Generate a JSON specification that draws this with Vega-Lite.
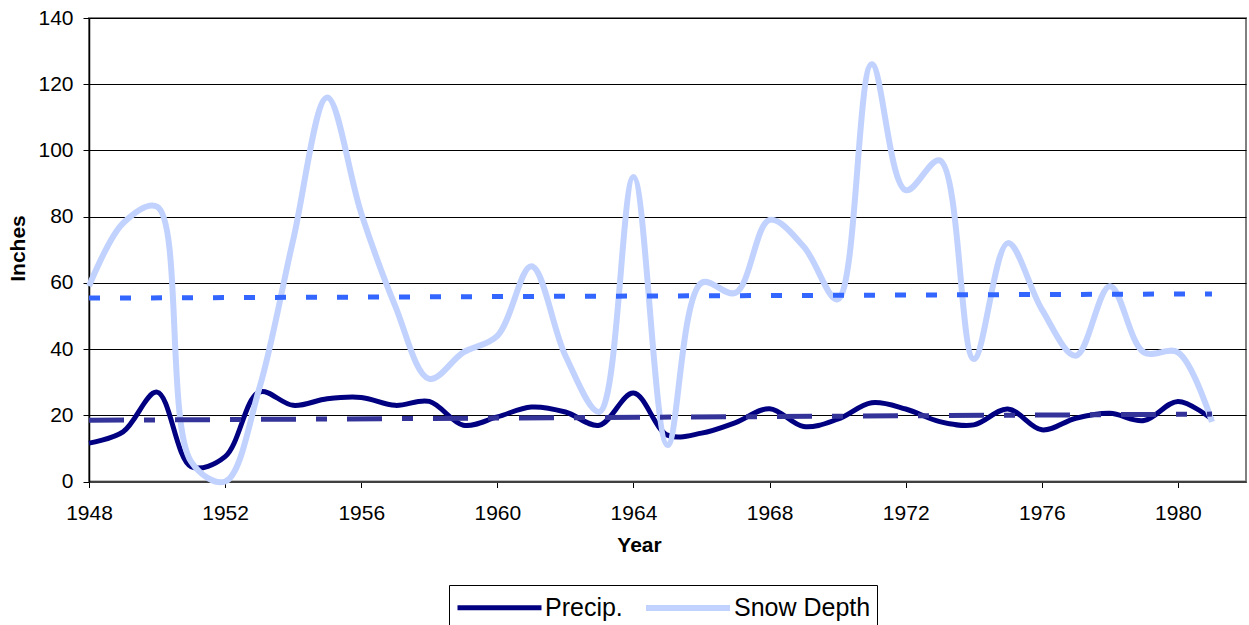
{
  "$schema": "https://vega.github.io/schema/vega-lite/v6.json",
  "width": 1157,
  "height": 463.5,
  "autosize": {"type": "none"},
  "padding": {"left": 89, "top": 18, "right": 3, "bottom": 144},
  "background": "white",
  "config": {
    "font": "Liberation Sans",
    "view": {"stroke": "#808080", "strokeWidth": 2},
    "axis": {"labelFont": "Liberation Sans", "titleFont": "Liberation Sans", "labelColor": "#000", "titleColor": "#000", "tickColor": "#000", "labelFontSize": 21, "titleFontSize": 21, "titleFontWeight": "bold"}
  },
  "data": {
    "values": [
      {"Year": 1948, "Series": "Precip.", "Inches": 11.6},
      {"Year": 1949, "Series": "Precip.", "Inches": 15},
      {"Year": 1950, "Series": "Precip.", "Inches": 27},
      {"Year": 1951, "Series": "Precip.", "Inches": 4.5},
      {"Year": 1952, "Series": "Precip.", "Inches": 7.5},
      {"Year": 1953, "Series": "Precip.", "Inches": 27},
      {"Year": 1954, "Series": "Precip.", "Inches": 23},
      {"Year": 1955, "Series": "Precip.", "Inches": 25},
      {"Year": 1956, "Series": "Precip.", "Inches": 25.4},
      {"Year": 1957, "Series": "Precip.", "Inches": 23},
      {"Year": 1958, "Series": "Precip.", "Inches": 24.2},
      {"Year": 1959, "Series": "Precip.", "Inches": 17},
      {"Year": 1960, "Series": "Precip.", "Inches": 19.5},
      {"Year": 1961, "Series": "Precip.", "Inches": 22.5},
      {"Year": 1962, "Series": "Precip.", "Inches": 21},
      {"Year": 1963, "Series": "Precip.", "Inches": 17},
      {"Year": 1964, "Series": "Precip.", "Inches": 26.7},
      {"Year": 1965, "Series": "Precip.", "Inches": 14},
      {"Year": 1966, "Series": "Precip.", "Inches": 14.6},
      {"Year": 1967, "Series": "Precip.", "Inches": 17.8},
      {"Year": 1968, "Series": "Precip.", "Inches": 22},
      {"Year": 1969, "Series": "Precip.", "Inches": 16.6},
      {"Year": 1970, "Series": "Precip.", "Inches": 18.8},
      {"Year": 1971, "Series": "Precip.", "Inches": 23.8},
      {"Year": 1972, "Series": "Precip.", "Inches": 21.9},
      {"Year": 1973, "Series": "Precip.", "Inches": 18.1},
      {"Year": 1974, "Series": "Precip.", "Inches": 17.1},
      {"Year": 1975, "Series": "Precip.", "Inches": 21.9},
      {"Year": 1976, "Series": "Precip.", "Inches": 15.6},
      {"Year": 1977, "Series": "Precip.", "Inches": 19.1},
      {"Year": 1978, "Series": "Precip.", "Inches": 20.6},
      {"Year": 1979, "Series": "Precip.", "Inches": 18.4},
      {"Year": 1980, "Series": "Precip.", "Inches": 24.2},
      {"Year": 1981, "Series": "Precip.", "Inches": 18.8},
      {"Year": 1948, "Series": "Snow Depth", "Inches": 59},
      {"Year": 1949, "Series": "Snow Depth", "Inches": 78},
      {"Year": 1950, "Series": "Snow Depth", "Inches": 83},
      {"Year": 1951, "Series": "Snow Depth", "Inches": 6},
      {"Year": 1952, "Series": "Snow Depth", "Inches": 0},
      {"Year": 1953, "Series": "Snow Depth", "Inches": 28},
      {"Year": 1954, "Series": "Snow Depth", "Inches": 73},
      {"Year": 1955, "Series": "Snow Depth", "Inches": 116},
      {"Year": 1956, "Series": "Snow Depth", "Inches": 81},
      {"Year": 1957, "Series": "Snow Depth", "Inches": 53},
      {"Year": 1958, "Series": "Snow Depth", "Inches": 31},
      {"Year": 1959, "Series": "Snow Depth", "Inches": 39},
      {"Year": 1960, "Series": "Snow Depth", "Inches": 44},
      {"Year": 1961, "Series": "Snow Depth", "Inches": 65},
      {"Year": 1962, "Series": "Snow Depth", "Inches": 38},
      {"Year": 1963, "Series": "Snow Depth", "Inches": 21},
      {"Year": 1964, "Series": "Snow Depth", "Inches": 92},
      {"Year": 1965, "Series": "Snow Depth", "Inches": 11},
      {"Year": 1966, "Series": "Snow Depth", "Inches": 60},
      {"Year": 1967, "Series": "Snow Depth", "Inches": 57},
      {"Year": 1968, "Series": "Snow Depth", "Inches": 79},
      {"Year": 1969, "Series": "Snow Depth", "Inches": 71},
      {"Year": 1970, "Series": "Snow Depth", "Inches": 55},
      {"Year": 1971, "Series": "Snow Depth", "Inches": 126},
      {"Year": 1972, "Series": "Snow Depth", "Inches": 88},
      {"Year": 1973, "Series": "Snow Depth", "Inches": 97},
      {"Year": 1974, "Series": "Snow Depth", "Inches": 37},
      {"Year": 1975, "Series": "Snow Depth", "Inches": 72},
      {"Year": 1976, "Series": "Snow Depth", "Inches": 52},
      {"Year": 1977, "Series": "Snow Depth", "Inches": 38},
      {"Year": 1978, "Series": "Snow Depth", "Inches": 59},
      {"Year": 1979, "Series": "Snow Depth", "Inches": 39},
      {"Year": 1980, "Series": "Snow Depth", "Inches": 39},
      {"Year": 1981, "Series": "Snow Depth", "Inches": 18}
    ]
  },
  "layer": [
    {
      "mark": {"type": "line", "interpolate": "catmull-rom"},
      "encoding": {
        "x": {
          "field": "Year", "type": "quantitative",
          "scale": {"domain": [1948, 1982], "nice": false, "zero": false},
          "axis": {
            "values": [1948, 1952, 1956, 1960, 1964, 1968, 1972, 1976, 1980],
            "format": "d", "title": "Year", "grid": false, "labelFlush": false,
            "tickSize": 6, "labelPadding": 15,
            "domainColor": "#404040", "domainWidth": 2,
            "titleX": 550, "titleY": 64, "titleBaseline": "middle", "titleAlign": "center"
          }
        },
        "y": {
          "field": "Inches", "type": "quantitative",
          "scale": {"domain": [0, 140], "nice": false},
          "axis": {
            "values": [0, 20, 40, 60, 80, 100, 120, 140],
            "title": "Inches", "grid": true, "gridColor": "#000", "gridWidth": 1,
            "tickSize": 6, "labelPadding": 10,
            "domainColor": "#000", "domainWidth": 1.5,
            "titleX": -71, "titleY": 230, "titleAngle": -90, "titleBaseline": "middle", "titleAlign": "center"
          }
        },
        "color": {
          "field": "Series", "type": "nominal",
          "scale": {"domain": ["Precip.", "Snow Depth"], "range": ["#000080", "#C2D2FF"]},
          "legend": {
            "orient": "none", "legendX": 360, "legendY": 567,
            "direction": "horizontal", "title": null,
            "symbolType": "M-3,0H3", "symbolSize": 784, "symbolStrokeWidth": 5, "symbolOffset": 28,
            "labelFontSize": 25, "labelFont": "Liberation Sans", "labelColor": "#000",
            "labelOffset": 29, "columnPadding": 11, "padding": 6,
            "strokeColor": "#000", "fillColor": "white"
          }
        },
        "strokeWidth": {
          "field": "Series", "type": "nominal",
          "scale": {"domain": ["Precip.", "Snow Depth"], "range": [5, 6]},
          "legend": null
        }
      }
    },
    {
      "transform": [
        {"filter": "datum.Series === 'Snow Depth'"},
        {"regression": "Inches", "on": "Year", "extent": [1948, 1981]}
      ],
      "mark": {"type": "line", "color": "#3366FF", "strokeWidth": 5, "strokeDash": [11, 20]},
      "encoding": {
        "x": {"field": "Year", "type": "quantitative"},
        "y": {"field": "Inches", "type": "quantitative"}
      }
    },
    {
      "transform": [
        {"filter": "datum.Series === 'Precip.'"},
        {"regression": "Inches", "on": "Year", "extent": [1948, 1981]}
      ],
      "mark": {"type": "line", "color": "#333399", "strokeWidth": 5, "strokeDash": [35, 20, 11, 20]},
      "encoding": {
        "x": {"field": "Year", "type": "quantitative"},
        "y": {"field": "Inches", "type": "quantitative"}
      }
    }
  ]
}
